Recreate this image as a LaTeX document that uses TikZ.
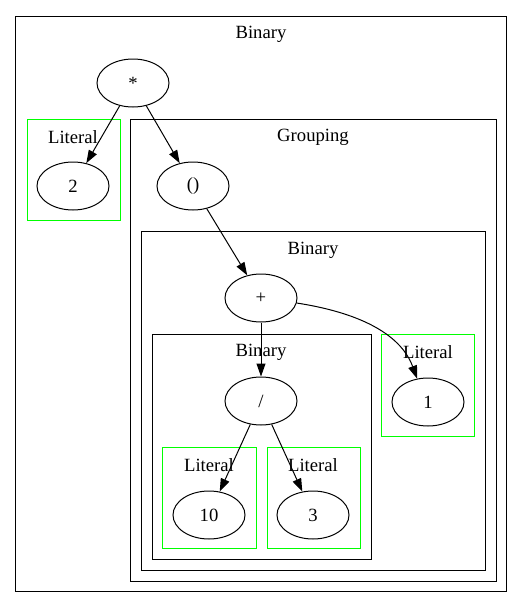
\documentclass[tikz,border=0pt]{standalone}
\usepackage{fontspec}
\setmainfont{Liberation Serif}
\usetikzlibrary{arrows.meta,shapes.geometric}
\definecolor{litgreen}{RGB}{0,255,0}
\tikzset{
  ell/.style={draw, ellipse, line width=1pt, minimum width=72pt, minimum height=48pt, inner sep=0pt, font=\fontsize{18.67}{22}\selectfont},
  clus/.style={draw, line width=1pt},
  lit/.style={draw=litgreen, line width=1pt},
  lbl/.style={font=\fontsize{18.67}{22}\selectfont, inner sep=0pt, yshift=-2pt},
  edge/.style={line width=1pt, -{Triangle[length=13pt,width=9pt]}}
}
\begin{document}
\begin{tikzpicture}[x=1pt,y=-1pt]
\useasboundingbox[fill=white] (0,0) rectangle (523,608);
% clusters
\draw[clus] (15.5,16.5) rectangle (506,591);
\node[lbl] (l0) at (261,32) {Binary};
\draw[lit] (27,119) rectangle (120,220);
\node[lbl] (l1) at (73,135) {Literal};
\draw[clus] (130,119) rectangle (496,581);
\node[lbl] (l2) at (313,135) {Grouping};
\draw[clus] (141,231) rectangle (485,570);
\node[lbl] (l3) at (313,248) {Binary};
\draw[clus] (152,334) rectangle (371,559);
\node[lbl] (l4) at (261,350) {Binary};
\draw[lit] (381,334) rectangle (474,436);
\node[lbl] (l5) at (428,350) {Literal};
\draw[lit] (162,447) rectangle (256,548);
\node[lbl] (l6) at (209,463) {Literal};
\draw[lit] (267,447) rectangle (360,548);
\node[lbl] (l7) at (313,463) {Literal};
% nodes
\node[ell] (star) at (133,83) {*};
\node[ell] (two) at (73,186) {2};
\node[ell] (grp) at (193,186) {()};
\node[ell] (plus) at (261,298) {+};
\node[ell] (div) at (261,401) {/};
\node[ell] (one) at (428,402) {1};
\node[ell] (ten) at (209,515) {10};
\node[ell] (three) at (313,515) {3};
% edges
\draw[edge] (star) -- (two);
\draw[edge] (star) -- (grp);
\draw[edge] (grp) -- (plus);
\draw[edge] (plus) -- (div);
\draw[edge] (plus.-8) .. controls (355,312) and (400,332) .. (one.115);
\draw[edge] (div) -- (ten);
\draw[edge] (div) -- (three);
\end{tikzpicture}
\end{document}
